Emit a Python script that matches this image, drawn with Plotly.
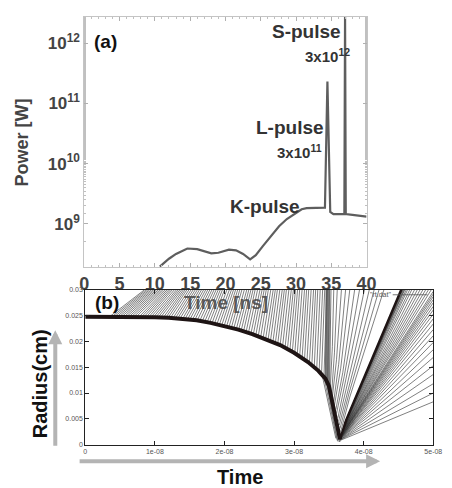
import plotly.graph_objects as go

# ---------------- Panel (a): laser power vs time ----------------
A_TIME_NS = [10.7, 12.0, 13.0, 14.6, 16.0, 17.0, 18.0, 19.0, 20.5, 21.5, 22.5, 23.5,
             24.3, 25.3, 26.5, 27.6, 28.7, 29.9, 30.8, 31.5, 33.0, 34.1, 34.45, 34.85,
             35.3, 36.0, 36.85, 36.95, 37.05, 38.0, 39.0, 40.0]
A_POWER_W = [1.95e8, 2.63e8, 3.16e8, 3.89e8, 3.80e8, 3.55e8, 3.24e8, 3.31e8, 3.72e8, 3.63e8,
             3.16e8, 2.57e8, 3.02e8, 4.27e8, 6.31e8, 9.12e8, 1.20e9, 1.51e9, 1.74e9, 1.82e9,
             1.86e9, 1.86e9, 2.30e11, 1.58e9, 1.45e9, 1.45e9, 1.45e9, 3.0e12, 1.45e9, 1.41e9,
             1.35e9, 1.32e9]
A_XTICKS = [0, 5, 10, 15, 20, 25, 30, 35, 40]
A_YTICKS = [1e9, 1e10, 1e11, 1e12]
A_YTICK_LABELS = ["10<sup>9</sup>", "10<sup>10</sup>", "10<sup>11</sup>", "10<sup>12</sup>"]

# ---------------- Panel (b): radius vs time (time in units of 1e-8 s) ----------------
B_XTICKS = [0, 1, 2, 3, 4, 5]
B_XTICK_LABELS = ["0", "1e-08", "2e-08", "3e-08", "4e-08", "5e-08"]
B_YTICKS = [0, 0.005, 0.01, 0.015, 0.02, 0.025, 0.03]
B_YTICK_LABELS = ["0", "0.005", "0.01", "0.015", "0.02", "0.025", "0.03"]

# imploding shell surface (thick line)
SHELL_T = [0, 0.5, 1.0, 1.2, 1.4, 1.6, 1.8, 2.0, 2.2, 2.4, 2.6, 2.8, 3.0, 3.2, 3.35, 3.45,
           3.50, 3.58, 3.66]
SHELL_R = [0.0248, 0.0248, 0.0247, 0.0246, 0.0244, 0.0241, 0.0236, 0.0230, 0.0223, 0.0214,
           0.0204, 0.0193, 0.0178, 0.0160, 0.0143, 0.0128, 0.0114, 0.0060, 0.0010]

# ablated plasma trajectories (start on shell, end at top of frame)
ABL_START_T = [0.35, 0.42, 0.49, 0.56, 0.63, 0.70, 0.77, 0.84, 0.91, 0.98, 1.05, 1.12, 1.19,
               1.26, 1.33, 1.40, 1.47, 1.54, 1.61, 1.68, 1.75, 1.82, 1.89, 1.96, 2.03, 2.10,
               2.17, 2.24, 2.31, 2.38, 2.45, 2.52, 2.59, 2.66, 2.73, 2.80, 2.87, 2.94, 3.01,
               3.08, 3.15, 3.22, 3.29, 3.36, 3.43]
ABL_START_R = [0.0248, 0.0248, 0.0248, 0.0248, 0.0248, 0.0248, 0.0247, 0.0247, 0.0247, 0.0247,
               0.0247, 0.0246, 0.0246, 0.0245, 0.0245, 0.0244, 0.0243, 0.0242, 0.0241, 0.0239,
               0.0237, 0.0235, 0.0233, 0.0231, 0.0229, 0.0227, 0.0224, 0.0221, 0.0218, 0.0215,
               0.0212, 0.0208, 0.0204, 0.0200, 0.0196, 0.0193, 0.0188, 0.0183, 0.0177, 0.0171,
               0.0165, 0.0158, 0.0150, 0.0142, 0.0133]
ABL_END_T = [0.85, 0.90, 0.95, 1.00, 1.05, 1.10, 1.15, 1.20, 1.25, 1.31, 1.36, 1.41, 1.46,
             1.52, 1.58, 1.64, 1.70, 1.76, 1.82, 1.88, 1.94, 2.00, 2.07, 2.13, 2.19, 2.25,
             2.32, 2.38, 2.44, 2.51, 2.57, 2.63, 2.70, 2.76, 2.83, 2.89, 2.96, 3.02, 3.08,
             3.15, 3.21, 3.28, 3.34, 3.41, 3.47]
# second, interleaved family of ablation trajectories
ABL2_START_T = [0.385, 0.455, 0.525, 0.595, 0.665, 0.735, 0.805, 0.875, 0.945, 1.015, 1.085,
                1.155, 1.225, 1.295, 1.365, 1.435, 1.505, 1.575, 1.645, 1.715, 1.785, 1.855,
                1.925, 1.995, 2.065, 2.135, 2.205, 2.275, 2.345, 2.415, 2.485, 2.555, 2.625,
                2.695, 2.765, 2.835, 2.905, 2.975, 3.045, 3.115, 3.185, 3.255, 3.325, 3.395]
ABL2_START_R = [0.0248, 0.0248, 0.0248, 0.0248, 0.0248, 0.0248, 0.0247, 0.0247, 0.0247, 0.0247,
                0.0247, 0.0246, 0.0246, 0.0245, 0.0245, 0.0244, 0.0243, 0.0242, 0.0240, 0.0238,
                0.0236, 0.0234, 0.0232, 0.0230, 0.0228, 0.0226, 0.0223, 0.0220, 0.0217, 0.0214,
                0.0210, 0.0206, 0.0202, 0.0198, 0.0195, 0.0191, 0.0186, 0.0180, 0.0174, 0.0168,
                0.0162, 0.0154, 0.0146, 0.0138]
ABL2_END_T = [0.875, 0.925, 0.975, 1.025, 1.075, 1.125, 1.175, 1.225, 1.28, 1.335, 1.385,
              1.435, 1.49, 1.55, 1.61, 1.67, 1.73, 1.79, 1.85, 1.91, 1.97, 2.035, 2.10, 2.16,
              2.22, 2.285, 2.35, 2.41, 2.475, 2.54, 2.60, 2.665, 2.73, 2.795, 2.86, 2.925,
              2.99, 3.05, 3.115, 3.18, 3.245, 3.31, 3.375, 3.44]
TOP_R = 0.03

# near-vertical bundle at the L-pulse
VB_START_T = [3.45, 3.46, 3.47, 3.48, 3.49, 3.50, 3.51]
VB_START_R = [0.0131, 0.0129, 0.0127, 0.0124, 0.0121, 0.0117, 0.0113]
VB_END_T = [3.46, 3.47, 3.48, 3.49, 3.50, 3.51, 3.53]

# converging lines into the stagnation point
CONE_T0 = [3.40, 3.43, 3.46, 3.48, 3.50]
CONE_R0 = [0.0137, 0.0131, 0.0124, 0.0118, 0.0112]
CONE_T1 = [3.60, 3.62, 3.63, 3.65, 3.66]
CONE_R1 = [0.0012, 0.0008, 0.0006, 0.0005, 0.0005]

# lines rising out of the stagnation region (left of the expanding front)
POST_T0 = [3.52, 3.54, 3.55, 3.57, 3.58, 3.60, 3.61, 3.63, 3.64, 3.65, 3.66, 3.67]
POST_R0 = [0.0110, 0.0100, 0.0092, 0.0084, 0.0076, 0.0068, 0.0060, 0.0052, 0.0045, 0.0038,
           0.0031, 0.0025]
POST_T1 = [3.55, 3.58, 3.61, 3.64, 3.67, 3.70, 3.72, 3.74, 3.76, 3.78, 3.79, 3.80]
POST_R1 = [0.0190, 0.0178, 0.0165, 0.0155, 0.0148, 0.0140, 0.0132, 0.0124, 0.0116, 0.0108,
           0.0100, 0.0092]
POST_T2 = [3.57, 3.62, 3.68, 3.74, 3.80, 3.87, 3.94, 4.01, 4.08, 4.15, 4.22, 4.29]

# expanding front (thick) and the fan of expanding trajectories
FRONT_T = [3.66, 3.75, 4.54]
FRONT_R = [0.0010, 0.0048, 0.0300]
EXP_T0 = [3.66, 3.66, 3.665, 3.67, 3.67, 3.675, 3.68, 3.68, 3.685, 3.69, 3.69, 3.695, 3.70,
          3.70, 3.70, 3.705, 3.705, 3.71, 3.71, 3.71, 3.71, 3.715, 3.715, 3.715, 3.715, 3.72,
          3.72, 3.72, 3.72, 3.72, 3.72, 3.72, 3.725, 3.725, 3.73, 3.73]
EXP_R0 = [0.0008, 0.0009, 0.0010, 0.0011, 0.0012, 0.0013, 0.0014, 0.0015, 0.0016, 0.0017,
          0.0018, 0.0019, 0.0020, 0.0021, 0.0022, 0.0023, 0.0024, 0.0025, 0.0026, 0.0027,
          0.0028, 0.0029, 0.0030, 0.0031, 0.0032, 0.0033, 0.0034, 0.0035, 0.0036, 0.0037,
          0.0038, 0.0039, 0.0040, 0.0041, 0.0042, 0.0043]
EXP_T1 = [5.0, 5.0, 5.0, 5.0, 5.0, 5.0, 5.0, 5.0, 5.0, 5.0, 5.0, 5.0, 5.0, 5.0, 5.0, 5.0,
          5.0, 5.0, 5.0, 5.0, 4.97, 4.93, 4.89, 4.85, 4.81, 4.77, 4.73, 4.69, 4.66, 4.63,
          4.61, 4.59, 4.58, 4.57, 4.56, 4.55]
EXP_R1 = [0.0083, 0.0100, 0.0118, 0.0136, 0.0153, 0.0169, 0.0184, 0.0198, 0.0211, 0.0223,
          0.0234, 0.0244, 0.0253, 0.0261, 0.0268, 0.0275, 0.0281, 0.0287, 0.0292, 0.0297,
          0.03, 0.03, 0.03, 0.03, 0.03, 0.03, 0.03, 0.03, 0.03, 0.03, 0.03, 0.03, 0.03, 0.03,
          0.03, 0.03]

W, H = 452, 488
FONT = "Liberation Sans, Arial, sans-serif"


def px(x):
    return x / W


def py(y):
    return 1 - y / H


def segments(pairs):
    xs, ys = [], []
    for pts in pairs:
        for (a, b) in pts:
            xs.append(a)
            ys.append(b)
        xs.append(None)
        ys.append(None)
    return xs, ys


fig = go.Figure()

# panel (a)
fig.add_trace(go.Scatter(x=A_TIME_NS, y=A_POWER_W, mode="lines",
                         line=dict(color="#5e5e5e", width=2.2),
                         xaxis="x", yaxis="y", showlegend=False, hoverinfo="skip"))

# panel (b)
thin = "rgba(40,40,40,0.85)"
abl = [[(t0, r0), (t1, TOP_R)] for t0, r0, t1 in zip(ABL_START_T, ABL_START_R, ABL_END_T)]
abl += [[(t0, r0), (t1, TOP_R)] for t0, r0, t1 in zip(ABL2_START_T, ABL2_START_R, ABL2_END_T)]
ax, ay = segments(abl)
fig.add_trace(go.Scatter(x=ax, y=ay, mode="lines", line=dict(color=thin, width=0.7),
                         xaxis="x2", yaxis="y2", showlegend=False, hoverinfo="skip"))
vx, vy = segments([[(t0, r0), (t1, TOP_R)] for t0, r0, t1 in zip(VB_START_T, VB_START_R, VB_END_T)])
fig.add_trace(go.Scatter(x=vx, y=vy, mode="lines", line=dict(color="rgba(80,80,80,0.8)", width=1),
                         xaxis="x2", yaxis="y2", showlegend=False, hoverinfo="skip"))
cx, cy = segments([[(a, b), (c, d)] for a, b, c, d in zip(CONE_T0, CONE_R0, CONE_T1, CONE_R1)])
fig.add_trace(go.Scatter(x=cx, y=cy, mode="lines", line=dict(color=thin, width=0.7),
                         xaxis="x2", yaxis="y2", showlegend=False, hoverinfo="skip"))
qx, qy = segments([[(a, b), (c, d), (e, TOP_R)] for a, b, c, d, e in
                   zip(POST_T0, POST_R0, POST_T1, POST_R1, POST_T2)])
fig.add_trace(go.Scatter(x=qx, y=qy, mode="lines", line=dict(color=thin, width=0.7),
                         xaxis="x2", yaxis="y2", showlegend=False, hoverinfo="skip"))
ex, ey = segments([[(a, b), (c, d)] for a, b, c, d in zip(EXP_T0, EXP_R0, EXP_T1, EXP_R1)])
fig.add_trace(go.Scatter(x=ex, y=ey, mode="lines", line=dict(color=thin, width=0.7),
                         xaxis="x2", yaxis="y2", showlegend=False, hoverinfo="skip"))
fig.add_trace(go.Scatter(x=FRONT_T, y=FRONT_R, mode="lines", line=dict(color="#1e1414", width=2.5),
                         xaxis="x2", yaxis="y2", showlegend=False, hoverinfo="skip"))
fig.add_trace(go.Scatter(x=SHELL_T, y=SHELL_R, mode="lines", line=dict(color="#1e1414", width=4),
                         xaxis="x2", yaxis="y2", showlegend=False, hoverinfo="skip"))

big_tick = dict(family=FONT, size=18, color="#444444")
fig.update_layout(
    width=W, height=H, margin=dict(l=0, r=0, t=0, b=0),
    paper_bgcolor="white", plot_bgcolor="white", showlegend=False,
    xaxis=dict(domain=[px(82), px(374)], range=[0, 40], anchor="y",
               tickvals=A_XTICKS, ticktext=[f"<b>{v}</b>" for v in A_XTICKS], tickfont=big_tick,
               ticks="inside", ticklen=4, tickcolor="#b0b0b0",
               minor=dict(ticks="inside", ticklen=2, dtick=1, tickcolor="#c0c0c0"),
               showline=True, linecolor="#c4c4c4", linewidth=1, mirror="allticks",
               showgrid=False, zeroline=False),
    yaxis=dict(domain=[py(267), py(13)], type="log", range=[8.28, 12.436], anchor="x",
               tickvals=A_YTICKS, ticktext=[f"<b>{v}</b>" for v in A_YTICK_LABELS],
               tickfont=dict(family=FONT, size=17, color="#444444"),
               ticks="inside", ticklen=4, tickcolor="#b0b0b0",
               minor=dict(ticks="inside", ticklen=2, tickcolor="#c0c0c0", showgrid=False),
               showline=True, linecolor="#c4c4c4", linewidth=1, mirror="allticks",
               showgrid=False, zeroline=False),
    xaxis2=dict(domain=[px(83), px(443)], range=[0, 5], anchor="y2",
                tickvals=B_XTICKS, ticktext=B_XTICK_LABELS,
                tickfont=dict(family=FONT, size=7, color="#555555"),
                ticks="inside", ticklen=4, tickcolor="#222",
                showline=True, linecolor="#222", linewidth=1, mirror="ticks",
                showgrid=False, zeroline=False),
    yaxis2=dict(domain=[py(447), py(290)], range=[0, 0.03], anchor="x2",
                tickvals=B_YTICKS, ticktext=B_YTICK_LABELS,
                tickfont=dict(family=FONT, size=7, color="#555555"),
                ticks="inside", ticklen=4, tickcolor="#222",
                showline=True, linecolor="#222", linewidth=1, mirror="ticks",
                showgrid=False, zeroline=False),
)


def label(text, x, y, size, color="#333333", angle=0, xanchor="center"):
    fig.add_annotation(text=text, x=px(x), y=py(y), xref="paper", yref="paper",
                       showarrow=False, textangle=angle, xanchor=xanchor, yanchor="middle",
                       font=dict(family=FONT, size=size, color=color))


label("<b>(a)</b>", 104, 38, 19, "#111111")
label("<b>S-pulse</b>", 312, 28, 19)
label("<b>3x10<sup>12</sup></b>", 334, 52, 15)
label("<b>L-pulse</b>", 295, 125, 19)
label("<b>3x10<sup>11</sup></b>", 305, 150, 15)
label("<b>K-pulse</b>", 269, 205, 19)
label("<b>Power [W]</b>", 18, 140, 18, "#444444", angle=-90)
label("<b>(b)</b>", 105, 303, 19, "#111111")
label("<b>Time [ns]</b>", 229, 303, 19, "rgba(70,70,70,0.85)")
label('"rt.dat"', 388, 295, 7, "#555555")
label("<b>Radius(cm)</b>", 37, 385, 20, "#111111", angle=-90)
label("<b>Time</b>", 243, 480, 20, "#111111")

# legend sample line for "rt.dat"
fig.add_shape(type="line", xref="paper", yref="paper", x0=px(401), x1=px(437), y0=py(295), y1=py(295),
              line=dict(color="#555555", width=0.8))

# gray arrows along the axes of panel (b)
fig.add_annotation(x=px(52), y=py(331), xref="paper", yref="paper", text="", showarrow=True,
                   ax=0, ay=117, arrowhead=2, arrowsize=0.7, arrowwidth=4, arrowcolor="#b4b4b4")
fig.add_annotation(x=px(388), y=py(464), xref="paper", yref="paper", text="", showarrow=True,
                   ax=-302, ay=0, arrowhead=2, arrowsize=0.7, arrowwidth=4, arrowcolor="#b4b4b4")

fig.write_html("out.html", config={"displayModeBar": False},
               post_script="document.body.style.margin='0';document.body.style.overflow='hidden';")
